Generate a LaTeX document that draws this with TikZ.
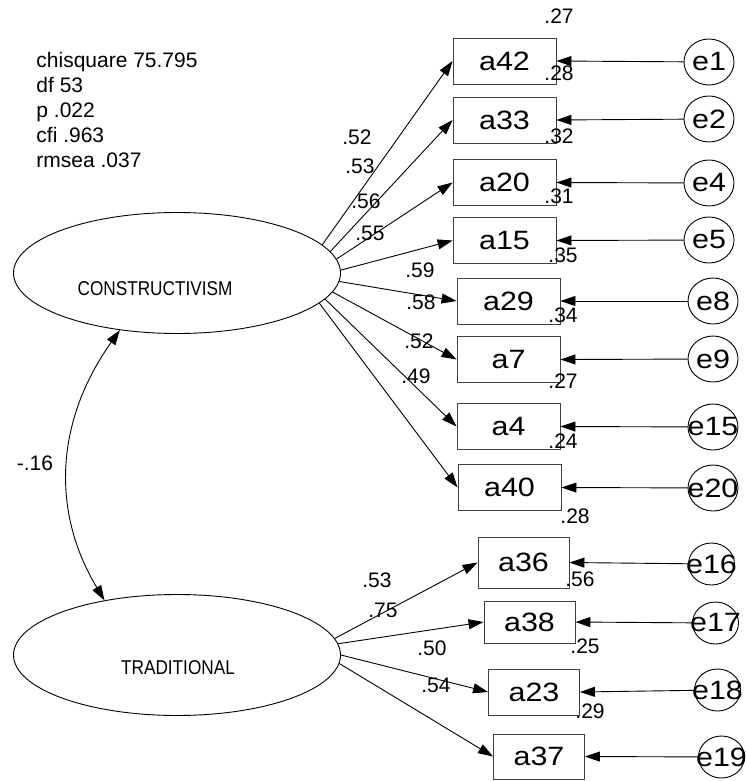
\documentclass[tikz,border=0pt]{standalone}
\usepackage{fontspec}
\setmainfont{Liberation Sans}
\newfontfamily\itemfont[FakeStretch=1.15]{Liberation Sans}
\newfontfamily\factorfont[FakeStretch=0.86]{Liberation Sans}
\usetikzlibrary{positioning, calc}
\usetikzlibrary{arrows.meta, shapes.geometric}

\begin{document}
\begin{tikzpicture}[x=1pt, y=-1pt, line width=0.9pt,
    every node/.style={inner sep=0pt},
    factor/.style={draw, ellipse, minimum width=327pt, minimum height=121pt},
    factorlab/.style={font=\factorfont\fontsize{20}{24}\selectfont},
    item/.style={draw=black!75, rectangle, font=\itemfont\fontsize{26.5}{30}\selectfont},
    err/.style={draw, ellipse, font=\itemfont\fontsize{26.5}{30}\selectfont},
    num/.style={font=\fontsize{21}{25}\selectfont},
    load/.style={-{Triangle[length=15pt,width=10pt]}},
    cov/.style={{Triangle[length=15pt,width=10pt]}-{Triangle[length=15pt,width=10pt]}}]

    \useasboundingbox (0,0) rectangle (746,781);

    % Fit indices
    \node[num, anchor=north west, align=left] (fit) at (36,52)
        {chisquare 75.795\\df 53\\p .022\\cfi .963\\rmsea .037};

    % Latent factors
    \node[factor] (C) at (177,273) {};
    \node[factor] (T) at (177,655) {};
    \node[factorlab] (Clab) at (155,289) {CONSTRUCTIVISM};
    \node[factorlab] (Tlab) at (178,668) {TRADITIONAL};

    % Correlation between factors
    \draw[cov] (C.225) .. controls +(-64,90) and +(-54,-90) .. (T.143);
    \node[num] (corr) at (35,463) {-.16};

    % Items of CONSTRUCTIVISM
    \foreach \name/\x/\y/\e/\ex/\ey/\ang/\coef/\cx/\cy/\rsq/\rx/\ry in {
        a42/504.5/61/e1/709/62/11/.52/357/137/.27/559/16,
        a33/504.5/120/e2/709/119/8/.53/360/166/.28/559/73.5,
        a20/504.5/182.5/e4/709/183/5/.56/366/201/.32/559/136,
        a15/504.5/240.5/e5/709/240/1/.55/370/233/.31/559/196,
        a29/508.5/301/e8/713/301/357/.59/420/270/.35/563/255,
        a7/508.5/359.5/e9/713/359/353/.58/421/302/.34/563/315,
        a4/508.5/426.5/e15/713/427/350/.52/419/341/.27/563/381,
        a40/509.5/487.5/e20/713/488/348/.49/416/376/.24/563/441} {

        \node[item, minimum width=103pt, minimum height=46pt] (\name) at (\x,\y) {\name};
        \node[err, minimum width=50pt, minimum height=46pt] (\e) at (\ex,\ey) {\makebox[0pt]{\e}};
        \node[num] (c\name) at (\cx,\cy) {\coef};
        \node[num] (r\name) at (\rx,\ry) {\rsq};

        % Draw edges
        \draw[load] (C.\ang) -- (\name.west);
        \draw[load] (\e) -- (\name.east);
    }

    % Items of TRADITIONAL
    \foreach \name/\x/\y/\h/\e/\ex/\ey/\ang/\coef/\cx/\cy/\rsq/\rx/\ry in {
        a36/523.5/562.5/51/e16/711.5/564/6/.53/377/580/.28/575/516,
        a38/529.5/622/42/e17/715.5/623/4/.75/383/610/.56/580/579,
        a23/534/692/46/e18/717.5/690/0/.50/432/648/.25/585/646,
        a37/539/756.5/45/e19/721.5/757/357/.54/436/685/.29/590/711} {

        \node[item, minimum width=91pt, minimum height=\h pt] (\name) at (\x,\y) {\name};
        \node[err, minimum width=46pt, minimum height=42pt] (\e) at (\ex,\ey) {\makebox[0pt]{\e}};
        \node[num] (c\name) at (\cx,\cy) {\coef};
        \node[num] (r\name) at (\rx,\ry) {\rsq};

        % Draw edges
        \draw[load] (T.\ang) -- (\name.west);
        \draw[load] (\e) -- (\name.east);
    }

\end{tikzpicture}
\end{document}
